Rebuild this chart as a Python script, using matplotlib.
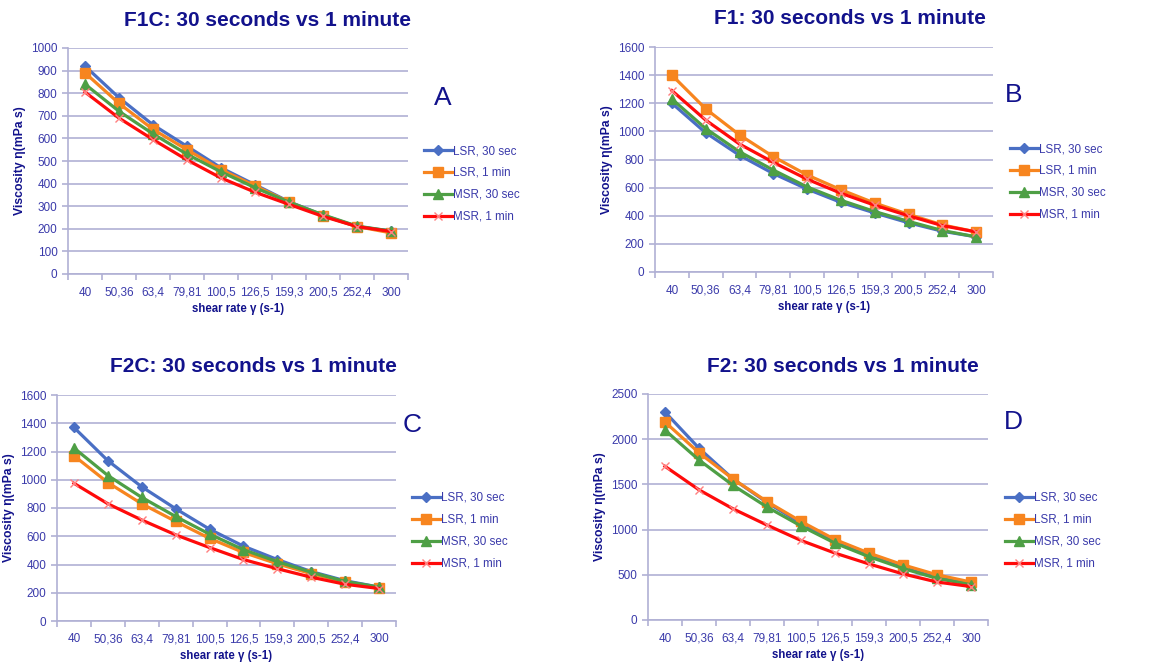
import numpy as np
import matplotlib.pyplot as plt

plt.rcParams['font.family'] = ['Liberation Sans', 'DejaVu Sans']

shear_labels = ['40', '50,36', '63,4', '79,81', '100,5', '126,5', '159,3', '200,5', '252,4', '300']
series_names = ['LSR, 30 sec', 'LSR, 1 min', 'MSR, 30 sec', 'MSR, 1 min']

# viscosity (mPa s) per sample, order follows series_names
f1c = [
    [920, 780, 660, 565, 470, 395, 320, 260, 210, 190],
    [890, 755, 640, 550, 462, 390, 318, 258, 210, 182],
    [840, 720, 620, 530, 452, 382, 318, 262, 212, 190],
    [805, 690, 595, 505, 425, 362, 308, 255, 210, 188],
]
f1 = [
    [1200, 990, 830, 700, 590, 495, 420, 350, 290, 250],
    [1400, 1160, 975, 820, 690, 585, 490, 410, 335, 285],
    [1230, 1020, 855, 725, 605, 510, 430, 360, 295, 250],
    [1290, 1080, 910, 780, 660, 560, 475, 400, 330, 285],
]
f2c = [
    [1370, 1135, 950, 795, 650, 530, 435, 350, 285, 240],
    [1170, 980, 830, 705, 585, 485, 405, 335, 275, 235],
    [1225, 1030, 875, 740, 615, 505, 420, 345, 280, 240],
    [975, 830, 715, 610, 520, 435, 370, 310, 260, 230],
]
f2 = [
    [2300, 1900, 1560, 1300, 1070, 870, 720, 580, 470, 400],
    [2190, 1850, 1560, 1310, 1090, 890, 740, 610, 500, 420],
    [2100, 1770, 1490, 1250, 1040, 850, 700, 570, 460, 390],
    [1700, 1440, 1230, 1050, 880, 740, 620, 510, 420, 370],
]

colors = ['#4A6FC4', '#F7851F', '#4E9F45', '#FF0A0A']
markers = ['D', 's', '^', 'x']
msizes = [5, 7, 7, 6]
navy = '#12128C'
tick_col = '#3A3AAA'
grid_col = '#B0B0D4'

W, H = 1161, 662
fig = plt.figure(figsize=(W / 100, H / 100), dpi=100)


def panel(data, title, letter, box, ymax, ystep, title_xy, letter_xy, legend_xy):
    l, t, r, b = box
    ax = fig.add_axes([l / W, 1 - b / H, (r - l) / W, (b - t) / H])
    x = np.arange(len(shear_labels))
    for vals, name, c, m, ms in zip(data, series_names, colors, markers, msizes):
        if m == 'x':
            ax.plot(x, vals, color=c, lw=2.3, marker=m, ms=ms, mew=1,
                    mec='#FF8080', label=name, zorder=3)
        else:
            ax.plot(x, vals, color=c, lw=2.3, marker=m, ms=ms, label=name, zorder=3)
    ax.set_xlim(-0.5, len(shear_labels) - 0.5)
    ax.set_ylim(0, ymax)
    ax.set_yticks(np.arange(0, ymax + 1, ystep))
    # tick marks sit between categories, labels under each category
    ax.set_xticks(np.arange(-0.5, len(shear_labels)), minor=False)
    ax.set_xticklabels([])
    ax.set_xticks(x, minor=True)
    ax.set_xticklabels(shear_labels, minor=True)
    ax.tick_params(axis='x', which='major', length=4, color=grid_col, width=1.2)
    ax.tick_params(axis='x', which='minor', length=0, pad=9, labelsize=8.5, labelcolor=tick_col)
    ax.tick_params(axis='y', length=4, color=grid_col, width=1.2, labelsize=8.5,
                   labelcolor=tick_col, direction='out')
    ax.grid(axis='y', color=grid_col, lw=1.2)
    ax.set_axisbelow(True)
    for s in ['top', 'right']:
        ax.spines[s].set_visible(False)
    for s in ['left', 'bottom']:
        ax.spines[s].set_color(grid_col)
        ax.spines[s].set_linewidth(1.2)
    ax.set_xlabel('shear rate γ (s-1)', fontsize=8.3, fontweight='bold', color=navy, labelpad=3)
    ax.set_ylabel('Viscosity η(mPa s)', fontsize=8.8, fontweight='bold', color=navy, labelpad=4)
    fig.text(title_xy[0] / W, 1 - title_xy[1] / H, title, ha='center', va='center',
             fontsize=15, fontweight='bold', color=navy)
    fig.text(letter_xy[0] / W, 1 - letter_xy[1] / H, letter, ha='center', va='center',
             fontsize=19, color=navy)
    fig.legend(*ax.get_legend_handles_labels(), loc='upper left',
               bbox_to_anchor=(legend_xy[0] / W, 1 - legend_xy[1] / H),
               frameon=False, fontsize=8.4, handlelength=2.4, handletextpad=0.1,
               labelspacing=0.85, borderpad=0, borderaxespad=0, labelcolor=tick_col)
    return ax


panel(f1c, 'F1C: 30 seconds vs 1 minute', 'A', (68, 48, 408, 274), 1000, 100,
      (267, 20), (443, 98), (424, 145))
panel(f1, 'F1: 30 seconds vs 1 minute', 'B', (655, 47, 993, 272), 1600, 200,
      (850, 18), (1014, 95), (1010, 143))
panel(f2c, 'F2C: 30 seconds vs 1 minute', 'C', (57, 395, 396, 621), 1600, 200,
      (253, 367), (412, 425), (412, 492))
panel(f2, 'F2: 30 seconds vs 1 minute', 'D', (648, 394, 988, 620), 2500, 500,
      (843, 367), (1013, 422), (1005, 492))

fig.savefig('out.png', dpi=100)
